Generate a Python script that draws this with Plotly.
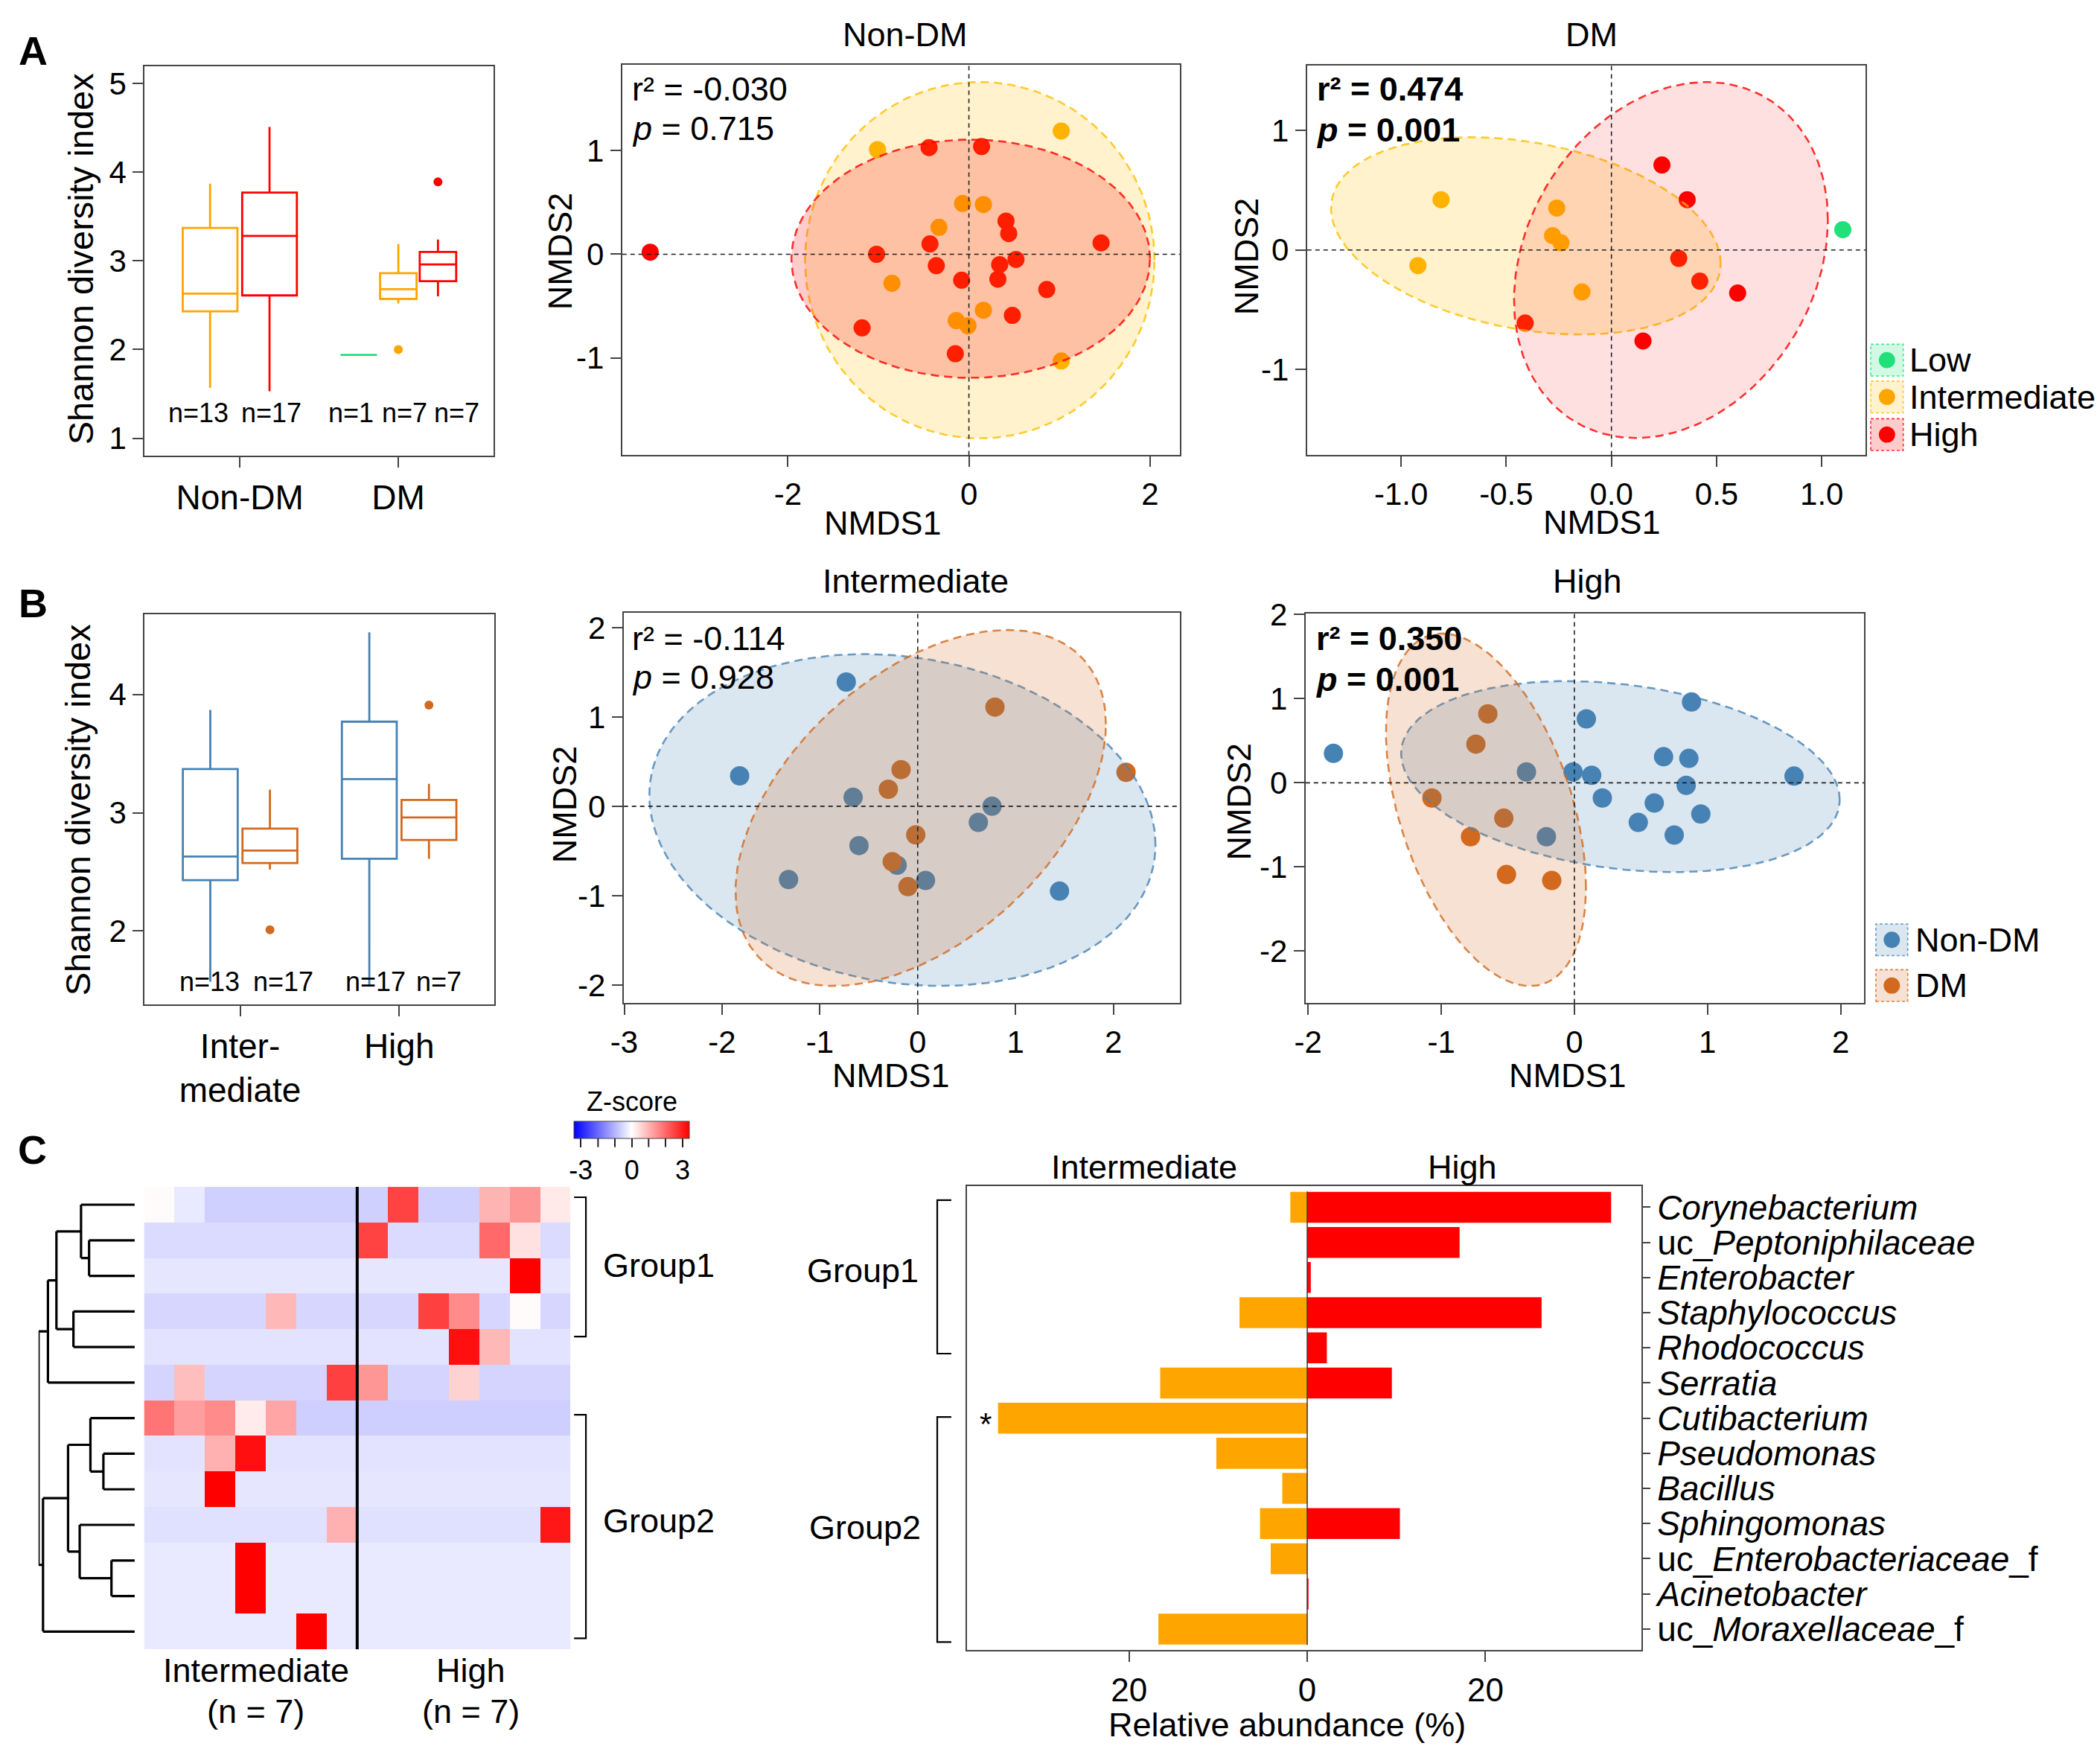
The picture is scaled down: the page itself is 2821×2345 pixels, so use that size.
import numpy as np
import plotly.graph_objects as go

W, H = 2821, 2345
FONT = "Liberation Sans, Arial, Helvetica, sans-serif"


def px(x):
    return x / W


def py(y):
    return 1 - y / H


def dom_x(x0, x1):
    return [px(x0), px(x1)]


def dom_y(y0, y1):
    return [py(y1), py(y0)]


def rgba(hexcol, a):
    h = hexcol.lstrip('#')
    return f"rgba({int(h[0:2], 16)},{int(h[2:4], 16)},{int(h[4:6], 16)},{a})"


# ---------------- colours ----------------
LOW_COL = "#20E07A"
INT_COL = "#FFA500"
INT_PT_COL = "#FFB000"
INT_EL_COL = "#FFBF00"
HIGH_COL = "#FF0000"
NDM_COL = "#4682B4"
DM_COL = "#D2691E"
level_col = {"Low": LOW_COL, "Intermediate": INT_COL, "High": HIGH_COL}
status_col = {"Non-DM": NDM_COL, "DM": DM_COL}

# ---------------- Panel A boxplot (summary statistics) ----------------
a_cats = ["Non-DM", "DM"]
a_box_cat = ["Non-DM", "Non-DM", "DM", "DM", "DM"]
a_box_level = ["Intermediate", "High", "Low", "Intermediate", "High"]
a_box_low = [1.57, 1.53, 1.94, 2.52, 2.60]
a_box_q1 = [2.43, 2.61, 1.94, 2.57, 2.77]
a_box_med = [2.63, 3.28, 1.94, 2.68, 2.96]
a_box_q3 = [3.37, 3.77, 1.94, 2.86, 3.10]
a_box_high = [3.87, 4.51, 1.94, 3.19, 3.24]
a_box_outlier = [None, None, None, 2.00, 3.89]
a_box_n = ["n=13", "n=17", "n=1", "n=7", "n=7"]
a_box_n_x = [0.74, 1.20, 1.70, 2.04, 2.37]

# ---------------- Panel B boxplot ----------------
b_cats = ["Intermediate", "High"]
b_cat_labels = ["Inter-<br>mediate", "High"]
b_box_cat = ["Intermediate", "Intermediate", "High", "High"]
b_box_status = ["Non-DM", "DM", "Non-DM", "DM"]
b_box_low = [1.57, 2.52, 1.53, 2.61]
b_box_q1 = [2.43, 2.575, 2.61, 2.77]
b_box_med = [2.63, 2.68, 3.285, 2.96]
b_box_q3 = [3.37, 2.866, 3.77, 3.108]
b_box_high = [3.87, 3.196, 4.526, 3.245]
b_box_outlier = [None, 2.01, None, 3.91]
b_box_n = ["n=13", "n=17", "n=17", "n=7"]
b_box_n_x = [0.81, 1.27, 1.85, 2.25]

# ---------------- NMDS: Non-DM (panel A) ----------------
nondm_int_x = [-1.01, 1.02, -0.07, 0.16, -0.33, -0.85, 0.16, -0.14, -0.01, 1.02]
nondm_int_y = [1.01, 1.19, 0.49, 0.48, 0.26, -0.28, -0.54, -0.64, -0.69, -1.03]
nondm_high_x = [-3.52, -0.44, 0.14, 0.41, 0.44, -0.43, -1.02, 1.46, 0.52, -0.36,
                0.34, -0.08, 0.32, 0.86, 0.48, -1.18, -0.15]
nondm_high_y = [0.02, 1.03, 1.04, 0.32, 0.20, 0.10, 0.00, 0.11, -0.05, -0.11,
                -0.10, -0.25, -0.24, -0.34, -0.59, -0.71, -0.96]
# ellipse params: centre x, centre y, half-extent x, half-extent y, correlation, fill alpha
ell_nondm_int = [0.12, -0.057, 1.93, 1.72, 0.0, 0.2]
ell_nondm_high = [0.02, -0.043, 1.98, 1.15, 0.0, 0.2]

# ---------------- NMDS: DM (panel A) ----------------
dm_low_x = [1.10]
dm_low_y = [0.17]
dm_int_x = [-0.81, -0.26, -0.28, -0.24, -0.92, -0.14]
dm_int_y = [0.42, 0.35, 0.12, 0.06, -0.13, -0.35]
dm_high_x = [0.24, 0.36, 0.32, 0.42, 0.60, -0.41, 0.15]
dm_high_y = [0.71, 0.42, -0.07, -0.26, -0.36, -0.61, -0.76]
ell_dm_int = [-0.407, 0.118, 0.926, 0.824, -0.28, 0.2]
ell_dm_high = [0.283, -0.084, 0.746, 1.487, 0.225, 0.12]

# ---------------- NMDS: Intermediate (panel B) ----------------
int_ndm_x = [-0.73, -1.82, -0.66, 0.76, 0.62, -0.60, -0.21, -1.32, 0.08, 1.45]
int_ndm_y = [1.39, 0.34, 0.10, 0.00, -0.18, -0.44, -0.66, -0.82, -0.83, -0.95]
int_dm_x = [0.79, -0.17, -0.30, 2.13, -0.02, -0.26, -0.10]
int_dm_y = [1.11, 0.41, 0.19, 0.38, -0.32, -0.62, -0.90]
ell_int_ndm = [-0.156, -0.154, 2.587, 1.857, -0.15, 0.2]
ell_int_dm = [0.031, -0.019, 1.893, 1.992, 0.47, 0.2]

# ---------------- NMDS: High (panel B) ----------------
high_ndm_x = [-1.81, -0.36, -0.01, 0.13, 0.09, 0.88, 0.67, 0.86, 1.65, 0.84,
              0.21, 0.60, 0.95, 0.48, 0.75, -0.21]
high_ndm_y = [0.35, 0.13, 0.13, 0.09, 0.76, 0.96, 0.31, 0.29, 0.08, -0.03,
              -0.18, -0.24, -0.37, -0.47, -0.62, -0.64]
high_dm_x = [-0.65, -0.74, -1.07, -0.53, -0.78, -0.51, -0.17]
high_dm_y = [0.82, 0.46, -0.18, -0.42, -0.64, -1.09, -1.16]
ell_high_ndm = [0.346, 0.074, 1.647, 1.135, -0.242, 0.2]
ell_high_dm = [-0.664, -0.320, 0.751, 2.094, -0.44, 0.2]

# ---------------- Panel C heatmap (Z-scores) ----------------
heat_z = [
    [0.05, -0.30, -0.63, -0.63, -0.63, -0.63, -0.63, -0.63, 2.50, -0.63, -0.63, 1.00, 1.40, 0.30],
    [-0.48, -0.48, -0.48, -0.48, -0.48, -0.48, -0.48, 2.50, -0.48, -0.48, -0.48, 2.00, 0.40, -0.48],
    [-0.33, -0.33, -0.33, -0.33, -0.33, -0.33, -0.33, -0.33, -0.33, -0.33, -0.33, -0.33, 3.40, -0.33],
    [-0.55, -0.55, -0.55, -0.55, 0.95, -0.55, -0.55, -0.55, -0.55, 2.55, 1.55, -0.55, 0.05, -0.55],
    [-0.38, -0.38, -0.38, -0.38, -0.38, -0.38, -0.38, -0.38, -0.38, -0.38, 3.20, 0.95, -0.38, -0.38],
    [-0.57, 0.87, -0.57, -0.57, -0.57, -0.57, 2.55, 1.40, -0.57, -0.57, 0.60, -0.57, -0.57, -0.57],
    [1.85, 1.30, 1.55, 0.27, 1.20, -0.65, -0.65, -0.65, -0.65, -0.65, -0.65, -0.65, -0.65, -0.65],
    [-0.38, -0.38, 1.05, 3.20, -0.38, -0.38, -0.38, -0.38, -0.38, -0.38, -0.38, -0.38, -0.38, -0.38],
    [-0.33, -0.33, 3.40, -0.33, -0.33, -0.33, -0.33, -0.33, -0.33, -0.33, -0.33, -0.33, -0.33, -0.33],
    [-0.42, -0.42, -0.42, -0.42, -0.42, -0.42, 1.05, -0.42, -0.42, -0.42, -0.42, -0.42, -0.42, 3.10],
    [-0.30, -0.30, -0.30, 3.40, -0.30, -0.30, -0.30, -0.30, -0.30, -0.30, -0.30, -0.30, -0.30, -0.30],
    [-0.30, -0.30, -0.30, 3.40, -0.30, -0.30, -0.30, -0.30, -0.30, -0.30, -0.30, -0.30, -0.30, -0.30],
    [-0.30, -0.30, -0.30, -0.30, -0.30, 3.40, -0.30, -0.30, -0.30, -0.30, -0.30, -0.30, -0.30, -0.30],
]
heat_n_int = 7
zscore_lim = 3.4
zscore_ticks = [-3, 0, 3]
zscore_minor = [-2, -1, 1, 2]

# dendrogram (leaves 0-12, merge k gets id 13+k)
dend_left = [1, 0, 3, 14, 16, 7, 6, 10, 9, 19, 22, 17]
dend_right = [2, 13, 4, 15, 5, 8, 18, 11, 20, 21, 12, 23]
dend_height = [102, 120, 137, 175, 194, 70, 99, 52, 123, 149, 205, 215]

# ---------------- Panel C bars ----------------
taxa = ["Corynebacterium", "uc_Peptoniphilaceae", "Enterobacter", "Staphylococcus",
        "Rhodococcus", "Serratia", "Cutibacterium", "Pseudomonas", "Bacillus",
        "Sphingomonas", "uc_Enterobacteriaceae_f", "Acinetobacter", "uc_Moraxellaceae_f"]
abund_int = [1.9, 0, 0, 7.6, 0, 16.5, 34.7, 10.2, 2.8, 5.3, 4.1, 0, 16.7]
abund_high = [34.1, 17.1, 0.4, 26.3, 2.2, 9.5, 0, 0, 0, 10.4, 0, 0.1, 0]


def fmt_taxon(t):
    pre, suf = "", ""
    if t.startswith("uc_"):
        pre, t = "uc_", t[3:]
    if t.endswith("_f"):
        suf, t = "_f", t[:-2]
    return f"{pre}<i>{t}</i>{suf}"


def ticktxt(vals, fmt="{:g}"):
    return [fmt.format(v) for v in vals]


def dodge(cat_list, cats):
    pos, wid = [], []
    for i, c in enumerate(cat_list):
        members = [j for j, cc in enumerate(cat_list) if cc == c]
        n = len(members)
        k = members.index(i)
        slot = 0.75 / n
        pos.append(cats.index(c) + 1 + (k - (n - 1) / 2) * slot)
        wid.append(0.92 * slot)
    return pos, wid


def ellipse_xy(p, n=200):
    cx, cy, sx, sy, rho = p[:5]
    t = np.linspace(0, 2 * np.pi, n)
    x = cx + sx * np.cos(t)
    y = cy + sy * (rho * np.cos(t) + np.sqrt(1 - rho ** 2) * np.sin(t))
    return x, y


fig = go.Figure()
shapes = []
anns = []


def ann(text, x, y, size=45, xanchor="center", yanchor="middle", angle=0, color="black"):
    anns.append(dict(text=text, x=px(x), y=py(y), xref="paper", yref="paper",
                     showarrow=False, xanchor=xanchor, yanchor=yanchor, textangle=angle,
                     font=dict(size=size, family=FONT, color=color)))


# ---------------- boxplots ----------------
def add_boxes(ax, cats, cat_list, groups, colmap, low, q1, med, q3, high, outl):
    pos, wid = dodge(cat_list, cats)
    xa, ya = ("x", "y") if ax == 1 else (f"x{ax}", f"y{ax}")
    for i in range(len(cat_list)):
        col = colmap[groups[i]]
        fig.add_trace(go.Box(x=[pos[i]], q1=[q1[i]], median=[med[i]], q3=[q3[i]],
                             lowerfence=[low[i]], upperfence=[high[i]], width=wid[i],
                             orientation="v", line=dict(color=col, width=2.8),
                             fillcolor="rgba(0,0,0,0)", whiskerwidth=0, boxpoints=False,
                             xaxis=xa, yaxis=ya, hoverinfo="skip"))
        if outl[i] is not None:
            fig.add_trace(go.Scatter(x=[pos[i]], y=[outl[i]], mode="markers",
                                     marker=dict(color=col, size=12), xaxis=xa, yaxis=ya,
                                     hoverinfo="skip"))


add_boxes(1, a_cats, a_box_cat, a_box_level, level_col, a_box_low, a_box_q1, a_box_med,
          a_box_q3, a_box_high, a_box_outlier)
add_boxes(4, b_cats, b_box_cat, b_box_status, status_col, b_box_low, b_box_q1, b_box_med,
          b_box_q3, b_box_high, b_box_outlier)

for t, xv in zip(a_box_n, a_box_n_x):
    anns.append(dict(text=t, x=xv, y=1.29, xref="x", yref="y", showarrow=False,
                     font=dict(size=36, family=FONT, color="black")))
for t, xv in zip(b_box_n, b_box_n_x):
    anns.append(dict(text=t, x=xv, y=1.57, xref="x4", yref="y4", showarrow=False,
                     font=dict(size=36, family=FONT, color="black")))


# ---------------- NMDS panels ----------------
def nmds(ax, groups, size):
    xa, ya = f"x{ax}", f"y{ax}"
    for xs, ys, pc, _, _ in groups:
        fig.add_trace(go.Scatter(x=xs, y=ys, mode="markers",
                                 marker=dict(color=pc, size=size, line=dict(width=0)),
                                 xaxis=xa, yaxis=ya, hoverinfo="skip"))
    for _, _, _, ep, ec in groups:
        if ep is None:
            continue
        ex, ey = ellipse_xy(ep)
        fig.add_trace(go.Scatter(x=ex, y=ey, mode="lines", fill="toself",
                                 fillcolor=rgba(ec, ep[5]),
                                 line=dict(color=rgba(ec, 0.8), width=2.6, dash="11px,7px"),
                                 xaxis=xa, yaxis=ya, hoverinfo="skip"))
    shapes.append(dict(type="line", xref=xa, yref=f"{ya} domain", x0=0, x1=0, y0=0, y1=1,
                       line=dict(color="#222", width=1.6, dash="6px,5px")))
    shapes.append(dict(type="line", xref=f"{xa} domain", yref=ya, x0=0, x1=1, y0=0, y1=0,
                       line=dict(color="#222", width=1.6, dash="6px,5px")))


nmds(2, [(nondm_int_x, nondm_int_y, INT_PT_COL, ell_nondm_int, INT_EL_COL),
         (nondm_high_x, nondm_high_y, HIGH_COL, ell_nondm_high, HIGH_COL)], 23)
nmds(3, [(dm_low_x, dm_low_y, LOW_COL, None, LOW_COL),
         (dm_int_x, dm_int_y, INT_PT_COL, ell_dm_int, INT_EL_COL),
         (dm_high_x, dm_high_y, HIGH_COL, ell_dm_high, HIGH_COL)], 23)
nmds(5, [(int_ndm_x, int_ndm_y, NDM_COL, ell_int_ndm, NDM_COL),
         (int_dm_x, int_dm_y, DM_COL, ell_int_dm, DM_COL)], 26)
nmds(6, [(high_ndm_x, high_ndm_y, NDM_COL, ell_high_ndm, NDM_COL),
         (high_dm_x, high_dm_y, DM_COL, ell_high_dm, DM_COL)], 26)

# ---------------- heatmap ----------------
n_rows = len(heat_z)
n_cols = len(heat_z[0])
CB_X0, CB_X1, CB_Y0, CB_Y1 = 758.5, 913.5, 1498, 1521
fig.add_trace(go.Heatmap(
    z=heat_z, x=list(range(n_cols)), y=list(range(n_rows)),
    colorscale=[[0, "#0000FF"], [0.5, "#FFFFFF"], [1, "#FF0000"]],
    zmin=-zscore_lim, zmax=zscore_lim,
    xaxis="x7", yaxis="y7", hoverinfo="skip",
    colorbar=dict(orientation="h", x=px((CB_X0 + CB_X1) / 2), xanchor="center",
                  y=py(CB_Y0), yanchor="top",
                  len=CB_X1 - CB_X0, lenmode="pixels", thickness=CB_Y1 - CB_Y0,
                  thicknessmode="pixels", xpad=0, ypad=0,
                  tickvals=zscore_ticks, ticktext=ticktxt(zscore_ticks),
                  ticks="outside", ticklen=12, tickwidth=2, tickcolor="#222",
                  tickfont=dict(size=36, family=FONT), outlinewidth=1, outlinecolor="#444")))
for v in zscore_minor:
    xv = CB_X0 + (v + zscore_lim) / (2 * zscore_lim) * (CB_X1 - CB_X0)
    shapes.append(dict(type="line", xref="paper", yref="paper", x0=px(xv), x1=px(xv),
                       y0=py(CB_Y1), y1=py(CB_Y1 + 12), line=dict(color="#222", width=2)))
ann("Z-score", 836, 1471, size=36)

shapes.append(dict(type="line", xref="x7", yref="y7", x0=heat_n_int - 0.5, x1=heat_n_int - 0.5,
                   y0=-0.5, y1=n_rows - 0.5, line=dict(color="black", width=4)))

# dendrogram
node_y = {i: float(i) for i in range(n_rows)}
node_h = {i: 0.0 for i in range(n_rows)}
dx, dy = [], []
for k, (l, r, h) in enumerate(zip(dend_left, dend_right, dend_height)):
    for c in (l, r):
        dx += [node_h[c], h, None]
        dy += [node_y[c], node_y[c], None]
    dx += [h, h, None]
    dy += [node_y[l], node_y[r], None]
    node_y[n_rows + k] = (node_y[l] + node_y[r]) / 2
    node_h[n_rows + k] = h
fig.add_trace(go.Scatter(x=dx, y=dy, mode="lines", line=dict(color="black", width=3.2),
                         xaxis="x8", yaxis="y8", hoverinfo="skip"))

# ---------------- bars ----------------
fig.add_trace(go.Bar(x=[-v for v in abund_int], y=taxa, orientation="h", width=0.88,
                     marker=dict(color=INT_COL, line=dict(width=0)), xaxis="x9", yaxis="y9",
                     hoverinfo="skip"))
fig.add_trace(go.Bar(x=abund_high, y=taxa, orientation="h", width=0.88,
                     marker=dict(color=HIGH_COL, line=dict(width=0)), xaxis="x9", yaxis="y9",
                     hoverinfo="skip"))
shapes.append(dict(type="line", xref="x9", yref="y9", x0=0, x1=0, y0=-0.45,
                   y1=len(taxa) - 0.55, line=dict(color="#333", width=1.5)))

# ---------------- axes ----------------
frame = dict(showline=True, mirror=True, linecolor="#444", linewidth=2, showgrid=False,
             zeroline=False, ticks="outside", ticklen=14, tickwidth=2, tickcolor="#444",
             tickfont=dict(size=42, family=FONT, color="black"))
hidden = dict(visible=False, showgrid=False, zeroline=False)
cat_font = dict(size=46, family=FONT, color="black")

nd_x = [-2, 0, 2]
nd_y = [-1, 0, 1]
dm_x = [-1.0, -0.5, 0.0, 0.5, 1.0]
dm_y = [-1, 0, 1]
in_x = [-3, -2, -1, 0, 1, 2]
in_y = [-2, -1, 0, 1, 2]
hi_x = [-2, -1, 0, 1, 2]
hi_y = [-2, -1, 0, 1, 2]

layout_axes = dict(
    xaxis=dict(frame, domain=dom_x(177.5, 649), range=[0.4, 2.6], tickvals=[1, 2],
               ticktext=a_cats, anchor="y", tickfont=cat_font),
    yaxis=dict(frame, domain=dom_y(68, 596), range=[0.80, 5.19], tickvals=[1, 2, 3, 4, 5],
               anchor="x"),
    xaxis2=dict(frame, domain=dom_x(823, 1577), range=[-3.83, 2.33], tickvals=nd_x,
                ticktext=ticktxt(nd_x), anchor="y2"),
    yaxis2=dict(frame, domain=dom_y(65.5, 595), range=[-1.94, 1.83], tickvals=nd_y,
                ticktext=ticktxt(nd_y), anchor="x2"),
    xaxis3=dict(frame, domain=dom_x(1749, 2504), range=[-1.447, 1.208], tickvals=dm_x,
                ticktext=ticktxt(dm_x, "{:.1f}"), anchor="y3"),
    yaxis3=dict(frame, domain=dom_y(67, 595), range=[-1.715, 1.539], tickvals=dm_y,
                ticktext=ticktxt(dm_y), anchor="x3"),
    xaxis4=dict(frame, domain=dom_x(177.5, 650.5), range=[0.4, 2.6], tickvals=[1, 2],
                ticktext=b_cat_labels, anchor="y4", tickfont=cat_font),
    yaxis4=dict(frame, domain=dom_y(811, 1340), range=[1.376, 4.676], tickvals=[2, 3, 4],
                anchor="x4"),
    xaxis5=dict(frame, domain=dom_x(825, 1577), range=[-3.006, 2.68], tickvals=in_x,
                ticktext=ticktxt(in_x), anchor="y5"),
    yaxis5=dict(frame, domain=dom_y(808.5, 1338), range=[-2.205, 2.166], tickvals=in_y,
                ticktext=ticktxt(in_y), anchor="x5"),
    xaxis6=dict(frame, domain=dom_x(1747, 2502), range=[-2.019, 2.176], tickvals=hi_x,
                ticktext=ticktxt(hi_x), anchor="y6"),
    yaxis6=dict(frame, domain=dom_y(810, 1338), range=[-2.619, 2.008], tickvals=hi_y,
                ticktext=ticktxt(hi_y), anchor="x6"),
    xaxis7=dict(hidden, domain=dom_x(176.6, 753), range=[-0.5, n_cols - 0.5], anchor="y7"),
    yaxis7=dict(hidden, domain=dom_y(1587, 2214), range=[n_rows - 0.5, -0.5], anchor="x7"),
    xaxis8=dict(hidden, domain=dom_x(34, 164), range=[max(dend_height), 0], anchor="y8"),
    yaxis8=dict(hidden, domain=dom_y(1587, 2214), range=[n_rows - 0.5, -0.5], anchor="x8"),
    xaxis9=dict(frame, domain=dom_x(1289, 2201), range=[-38.2, 37.5], tickvals=[-20, 0, 20],
                ticktext=["20", "0", "20"], anchor="y9",
                tickfont=dict(size=44, family=FONT, color="black")),
    yaxis9=dict(frame, domain=dom_y(1586, 2215), type="category", categoryorder="array",
                categoryarray=taxa, range=[len(taxa) - 0.4, -0.6], side="right",
                tickvals=taxa, ticktext=[fmt_taxon(t) for t in taxa], ticklen=10,
                anchor="x9", tickfont=cat_font),
)

# ---------------- text annotations ----------------
ann("<b>A</b>", 27, 46, size=54)
ann("<b>B</b>", 27, 795, size=54)
ann("<b>C</b>", 26, 1536, size=54)

ann("Shannon diversity index", 91, 329, size=47, angle=-90)
ann("Shannon diversity index", 87, 1076, size=47, angle=-90)

ann("Non-DM", 1206, 25, size=45)
ann("DM", 2134, 25, size=45)
ann("Intermediate", 1220, 766, size=45)
ann("High", 2128, 766, size=45)

ann("NMDS2", 739, 318, size=45, angle=-90)
ann("NMDS1", 1176, 687, size=45)
ann("NMDS2", 1668, 325, size=45, angle=-90)
ann("NMDS1", 2148, 686, size=45)
ann("NMDS2", 746, 1068, size=45, angle=-90)
ann("NMDS1", 1187, 1436, size=45)
ann("NMDS2", 1657, 1064, size=45, angle=-90)
ann("NMDS1", 2101, 1436, size=45)

ann("r² = -0.030", 834, 98, size=45, xanchor="left")
ann("<i>p</i> = 0.715", 834, 152, size=45, xanchor="left")
ann("<b>r² = 0.474</b>", 1760, 98, size=45, xanchor="left")
ann("<b><i>p</i> = 0.001</b>", 1760, 154, size=45, xanchor="left")
ann("r² = -0.114", 834, 843, size=45, xanchor="left")
ann("<i>p</i> = 0.928", 834, 896, size=45, xanchor="left")
ann("<b>r² = 0.350</b>", 1759, 843, size=45, xanchor="left")
ann("<b><i>p</i> = 0.001</b>", 1759, 899, size=45, xanchor="left")

# heatmap labels
ann("Intermediate", 328, 2243)
ann("(n = 7)", 328, 2298)
ann("High", 618, 2243)
ann("(n = 7)", 618, 2298)
ann("Group1", 795, 1693, xanchor="left")
ann("Group2", 795, 2040, xanchor="left")

# bar labels
ann("Intermediate", 1529, 1560)
ann("High", 1959, 1560)
ann("Relative abundance (%)", 1722, 2316)
ann("Group1", 1148, 1700)
ann("Group2", 1151, 2049)
ann("*", 1314, 1908, size=42)


def bracket(x_open, x_close, y0, y1):
    p = (f"M {px(x_open)} {py(y0)} L {px(x_close)} {py(y0)} "
         f"L {px(x_close)} {py(y1)} L {px(x_open)} {py(y1)}")
    shapes.append(dict(type="path", xref="paper", yref="paper", path=p,
                       line=dict(color="black", width=2.2)))


bracket(758, 774, 1601, 1790)
bracket(758, 774, 1896, 2199)
bracket(1268, 1249, 1605, 1813)
bracket(1268, 1249, 1899, 2204)


# ---------------- manual legends ----------------
def legend_item(label, col, elcol, x0, x1, yc, text_x, alpha=0.2, h=43, msize=22):
    shapes.append(dict(type="rect", xref="paper", yref="paper",
                       x0=px(x0), x1=px(x1), y0=py(yc + h / 2), y1=py(yc - h / 2),
                       fillcolor=rgba(elcol, alpha),
                       line=dict(color=rgba(elcol, 0.8), width=1.6, dash="4px,3px")))
    xc = (x0 + x1) / 2
    shapes.append(dict(type="circle", xref="paper", yref="paper",
                       x0=px(xc - msize / 2), x1=px(xc + msize / 2),
                       y0=py(yc + msize / 2), y1=py(yc - msize / 2),
                       fillcolor=col, line=dict(width=0)))
    ann(label, text_x, yc, size=45, xanchor="left")


legend_item("Low", LOW_COL, LOW_COL, 2511, 2555, 466, 2561)
legend_item("Intermediate", INT_COL, INT_EL_COL, 2511, 2555, 516, 2561)
legend_item("High", HIGH_COL, HIGH_COL, 2511, 2555, 567, 2561)
legend_item("Non-DM", NDM_COL, NDM_COL, 2518, 2561, 1252, 2569)
legend_item("DM", DM_COL, DM_COL, 2518, 2561, 1314, 2569)

fig.update_layout(
    width=W, height=H, autosize=False,
    margin=dict(l=0, r=0, t=0, b=0, pad=0),
    paper_bgcolor="white", plot_bgcolor="white",
    font=dict(family=FONT, size=44, color="black"),
    showlegend=False, barmode="relative", boxmode="overlay",
    shapes=shapes, annotations=anns,
    **layout_axes,
)

fig.write_html("out.html", config={"displayModeBar": False},
               post_script="document.body.style.margin='0';document.body.style.overflow='hidden';")
